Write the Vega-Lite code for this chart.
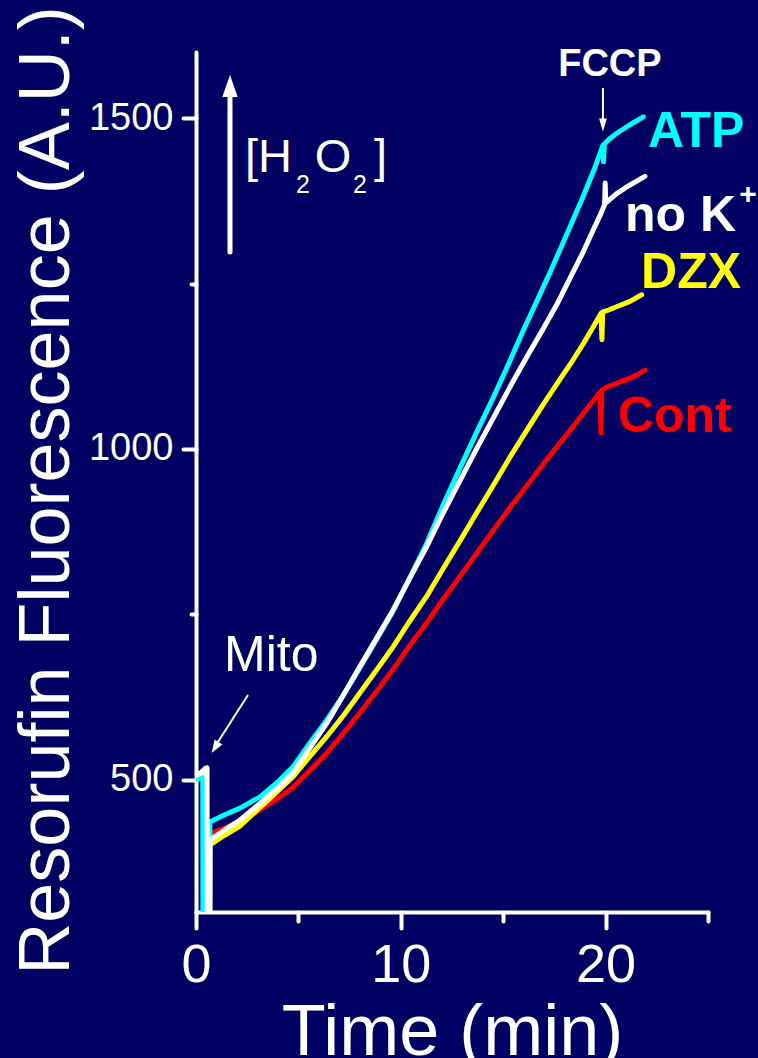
{
  "$schema": "https://vega.github.io/schema/vega-lite/v6.json",
  "width": 512,
  "height": 860,
  "autosize": "none",
  "padding": {"left": 196, "top": 52, "right": 50, "bottom": 146},
  "background": "#000062",
  "config": {"view": {"stroke": null}, "font": "Liberation Sans"},
  "datasets": {
    "curves": [
      {"series":"Cont","t":0,"v":504},{"series":"Cont","t":0.3,"v":506},{"series":"Cont","t":0.5,"v":509},{"series":"Cont","t":0.52,"v":200},{"series":"Cont","t":0.66,"v":200},{"series":"Cont","t":0.67,"v":418},{"series":"Cont","t":1.4,"v":427},{"series":"Cont","t":2.15,"v":436},{"series":"Cont","t":3.125,"v":455},{"series":"Cont","t":3.94,"v":470},{"series":"Cont","t":4.75,"v":489},{"series":"Cont","t":5.5,"v":512},{"series":"Cont","t":6.38,"v":540},{"series":"Cont","t":7.2,"v":570},{"series":"Cont","t":8.0,"v":601},{"series":"Cont","t":8.8,"v":633},{"series":"Cont","t":9.63,"v":667},{"series":"Cont","t":10.4,"v":701},{"series":"Cont","t":11.26,"v":737},{"series":"Cont","t":12.05,"v":772},{"series":"Cont","t":12.89,"v":807},{"series":"Cont","t":13.7,"v":842},{"series":"Cont","t":14.52,"v":877},{"series":"Cont","t":15.3,"v":910},{"series":"Cont","t":16.15,"v":944},{"series":"Cont","t":16.95,"v":977},{"series":"Cont","t":17.77,"v":1009},{"series":"Cont","t":18.4,"v":1033},{"series":"Cont","t":18.91,"v":1054},{"series":"Cont","t":19.35,"v":1071},{"series":"Cont","t":19.73,"v":1086},{"series":"Cont","t":19.77,"v":1024},{"series":"Cont","t":19.82,"v":1089},{"series":"Cont","t":20.1,"v":1094},{"series":"Cont","t":20.54,"v":1099},{"series":"Cont","t":21.19,"v":1107},{"series":"Cont","t":21.6,"v":1113},{"series":"Cont","t":21.92,"v":1119},
      {"series":"DZX","t":0,"v":505},{"series":"DZX","t":0.3,"v":509},{"series":"DZX","t":0.5,"v":512},{"series":"DZX","t":0.52,"v":200},{"series":"DZX","t":0.66,"v":200},{"series":"DZX","t":0.67,"v":401},{"series":"DZX","t":1.4,"v":416},{"series":"DZX","t":2.15,"v":430},{"series":"DZX","t":3.125,"v":458},{"series":"DZX","t":3.94,"v":481},{"series":"DZX","t":4.75,"v":505},{"series":"DZX","t":5.5,"v":533},{"series":"DZX","t":6.38,"v":565},{"series":"DZX","t":7.2,"v":597},{"series":"DZX","t":8.0,"v":631},{"series":"DZX","t":8.8,"v":665},{"series":"DZX","t":9.63,"v":701},{"series":"DZX","t":10.4,"v":738},{"series":"DZX","t":11.26,"v":777},{"series":"DZX","t":12.05,"v":818},{"series":"DZX","t":12.89,"v":861},{"series":"DZX","t":13.7,"v":903},{"series":"DZX","t":14.52,"v":945},{"series":"DZX","t":15.3,"v":986},{"series":"DZX","t":16.15,"v":1028},{"series":"DZX","t":16.95,"v":1067},{"series":"DZX","t":17.77,"v":1105},{"series":"DZX","t":18.4,"v":1134},{"series":"DZX","t":18.91,"v":1159},{"series":"DZX","t":19.35,"v":1182},{"series":"DZX","t":19.78,"v":1205},{"series":"DZX","t":19.82,"v":1165},{"series":"DZX","t":19.86,"v":1207},{"series":"DZX","t":20.15,"v":1210},{"series":"DZX","t":20.54,"v":1215},{"series":"DZX","t":21.19,"v":1223},{"series":"DZX","t":21.76,"v":1233},
      {"series":"ATP","t":0,"v":501},{"series":"ATP","t":0.2,"v":502},{"series":"ATP","t":0.33,"v":502},{"series":"ATP","t":0.34,"v":200},{"series":"ATP","t":0.65,"v":200},{"series":"ATP","t":0.68,"v":436},{"series":"ATP","t":1.4,"v":447},{"series":"ATP","t":2.15,"v":457},{"series":"ATP","t":3.125,"v":474},{"series":"ATP","t":3.94,"v":495},{"series":"ATP","t":4.75,"v":520},{"series":"ATP","t":5.5,"v":553},{"series":"ATP","t":6.38,"v":590},{"series":"ATP","t":7.2,"v":628},{"series":"ATP","t":8.0,"v":669},{"series":"ATP","t":8.8,"v":711},{"series":"ATP","t":9.63,"v":755},{"series":"ATP","t":10.4,"v":803},{"series":"ATP","t":11.26,"v":857},{"series":"ATP","t":12.05,"v":914},{"series":"ATP","t":12.89,"v":971},{"series":"ATP","t":13.7,"v":1025},{"series":"ATP","t":14.52,"v":1078},{"series":"ATP","t":15.3,"v":1131},{"series":"ATP","t":15.98,"v":1179},{"series":"ATP","t":16.8,"v":1234},{"series":"ATP","t":17.29,"v":1267},{"series":"ATP","t":18.1,"v":1324},{"series":"ATP","t":18.91,"v":1382},{"series":"ATP","t":19.5,"v":1427},{"series":"ATP","t":19.87,"v":1459},{"series":"ATP","t":19.9,"v":1434},{"series":"ATP","t":19.94,"v":1461},{"series":"ATP","t":20.2,"v":1469},{"series":"ATP","t":20.54,"v":1477},{"series":"ATP","t":21.19,"v":1490},{"series":"ATP","t":21.84,"v":1502},
      {"series":"no K+","t":0,"v":506},{"series":"no K+","t":0.25,"v":511},{"series":"no K+","t":0.45,"v":517},{"series":"no K+","t":0.54,"v":518},{"series":"no K+","t":0.55,"v":200},{"series":"no K+","t":0.68,"v":200},{"series":"no K+","t":0.69,"v":409},{"series":"no K+","t":1.4,"v":424},{"series":"no K+","t":2.15,"v":439},{"series":"no K+","t":3.125,"v":464},{"series":"no K+","t":3.94,"v":486},{"series":"no K+","t":4.75,"v":511},{"series":"no K+","t":5.5,"v":545},{"series":"no K+","t":6.38,"v":585},{"series":"no K+","t":7.2,"v":628},{"series":"no K+","t":8.0,"v":671},{"series":"no K+","t":8.8,"v":713},{"series":"no K+","t":9.63,"v":757},{"series":"no K+","t":10.4,"v":802},{"series":"no K+","t":11.26,"v":852},{"series":"no K+","t":12.05,"v":902},{"series":"no K+","t":12.89,"v":952},{"series":"no K+","t":13.7,"v":1000},{"series":"no K+","t":14.52,"v":1047},{"series":"no K+","t":15.3,"v":1092},{"series":"no K+","t":16.15,"v":1139},{"series":"no K+","t":16.94,"v":1181},{"series":"no K+","t":17.63,"v":1219},{"series":"no K+","t":18.1,"v":1248},{"series":"no K+","t":18.91,"v":1298},{"series":"no K+","t":19.35,"v":1328},{"series":"no K+","t":19.73,"v":1353},{"series":"no K+","t":19.95,"v":1369},{"series":"no K+","t":19.98,"v":1402},{"series":"no K+","t":20.01,"v":1372},{"series":"no K+","t":20.54,"v":1386},{"series":"no K+","t":21.19,"v":1399},{"series":"no K+","t":21.92,"v":1412}
    ],
    "notes": [
      {"kind":"label","series":"ATP","text":"ATP","t":22.07,"v":1456},
      {"kind":"label","series":"no K+","text":"no K","t":20.95,"v":1329},
      {"kind":"label","series":"DZX","text":"DZX","t":21.73,"v":1243},
      {"kind":"label","series":"Cont","text":"Cont","t":20.6,"v":1026},
      {"kind":"sup","text":"+","t":26.95,"v":1370},
      {"kind":"fccp","text":"FCCP","t":20.21,"v":1563.7},
      {"kind":"mito","text":"Mito","t":1.37,"v":664},
      {"kind":"chem","text":"[H","t":2.39,"v":1418.6},
      {"kind":"chem","text":"O","t":5.8,"v":1418.6},
      {"kind":"chem","text":"]","t":8.69,"v":1418.6},
      {"kind":"sub","text":"2","t":4.88,"v":1386.8},
      {"kind":"sub","text":"2","t":7.67,"v":1386.8}
    ],
    "arrows": [
      {"kind":"thick","t":1.66,"v":1297.7,"t2":1.66,"v2":1539.5},
      {"kind":"thin","t":19.87,"v":1545.6,"t2":19.87,"v2":1497},
      {"kind":"thin","t":2.54,"v":628,"t2":1.07,"v2":557}
    ],
    "heads": [
      {"kind":"big","t":1.66,"v":1548.6},
      {"kind":"fccp","t":19.87,"v":1489.6},
      {"kind":"mito","t":0.93,"v":548.6}
    ]
  },
  "encoding": {
    "x": {
      "field": "t", "type": "quantitative",
      "scale": {"domain": [0, 25], "nice": false, "zero": false},
      "axis": {
        "title": "Time (min)", "values": [0, 5, 10, 15, 20, 25], "format": "d",
        "labelExpr": "datum.value % 10 === 0 ? datum.label : ''",
        "grid": false, "domainColor": "white", "domainWidth": 4, "domainCap": "round",
        "tickColor": "white", "tickWidth": 4, "tickCap": "round", "tickSize": 16,
        "tickDash": {"condition": {"test": "datum.value % 10 !== 0", "value": [9, 40]}, "value": []},
        "labelColor": "white", "labelFont": "Liberation Sans", "labelFontSize": 54,
        "labelBaseline": "alphabetic", "labelPadding": 53, "labelFlush": false, "labelOverlap": false,
        "titleColor": "white", "titleFont": "Liberation Sans", "titleFontSize": 72, "titleFontWeight": "normal",
        "titleBaseline": "alphabetic", "titleY": 142
      }
    },
    "y": {
      "field": "v", "type": "quantitative",
      "scale": {"domain": [300, 1600], "nice": false, "zero": false},
      "axis": {
        "title": "Resorufin Fluorescence (A.U.)", "values": [500, 750, 1000, 1250, 1500], "format": "d",
        "labelExpr": "datum.value % 500 === 0 ? datum.label : ''",
        "grid": false, "domainColor": "white", "domainWidth": 4, "domainCap": "round",
        "tickColor": "white", "tickWidth": 4, "tickCap": "round", "tickSize": 13,
        "tickDash": {"condition": {"test": "datum.value % 500 !== 0", "value": [5, 40]}, "value": []},
        "labelColor": "white", "labelFont": "Liberation Sans", "labelFontSize": 38,
        "labelPadding": 10, "labelFlush": false, "labelOverlap": false,
        "titleColor": "white", "titleFont": "Liberation Sans", "titleFontSize": 72, "titleFontWeight": "normal",
        "titleAngle": -90, "titleAlign": "center", "titleBaseline": "alphabetic", "titleX": -128, "titleY": 438
      }
    }
  },
  "layer": [
    {
      "data": {"name": "curves"},
      "transform": [{"filter": "datum.series === 'Cont'"}],
      "mark": {"type": "line", "clip": true, "strokeWidth": 5, "strokeCap": "round", "strokeJoin": "round"},
      "encoding": {"color": {"field": "series", "type": "nominal", "scale": {"domain": ["Cont", "DZX", "no K+", "ATP"], "range": ["#ff0000", "#ffff00", "#ffffff", "#00ffff"]}, "legend": null}}
    },
    {
      "data": {"name": "curves"},
      "transform": [{"filter": "datum.series === 'DZX'"}],
      "mark": {"type": "line", "clip": true, "strokeWidth": 5, "strokeCap": "round", "strokeJoin": "round"},
      "encoding": {"color": {"field": "series", "type": "nominal", "scale": {"domain": ["Cont", "DZX", "no K+", "ATP"], "range": ["#ff0000", "#ffff00", "#ffffff", "#00ffff"]}, "legend": null}}
    },
    {
      "data": {"name": "curves"},
      "transform": [{"filter": "datum.series === 'ATP'"}],
      "mark": {"type": "line", "clip": true, "strokeWidth": 5, "strokeCap": "round", "strokeJoin": "round"},
      "encoding": {"color": {"field": "series", "type": "nominal", "scale": {"domain": ["Cont", "DZX", "no K+", "ATP"], "range": ["#ff0000", "#ffff00", "#ffffff", "#00ffff"]}, "legend": null}}
    },
    {
      "data": {"name": "curves"},
      "transform": [{"filter": "datum.series === 'no K+'"}],
      "mark": {"type": "line", "clip": true, "strokeWidth": 5, "strokeCap": "round", "strokeJoin": "round"},
      "encoding": {"color": {"field": "series", "type": "nominal", "scale": {"domain": ["Cont", "DZX", "no K+", "ATP"], "range": ["#ff0000", "#ffff00", "#ffffff", "#00ffff"]}, "legend": null}}
    },
    {
      "data": {"name": "notes"},
      "transform": [{"filter": "datum.kind === 'label'"}],
      "mark": {"type": "text", "font": "Liberation Sans", "fontSize": 50, "fontWeight": "bold", "align": "left", "baseline": "alphabetic"},
      "encoding": {
        "text": {"field": "text"},
        "color": {"field": "series", "type": "nominal", "scale": {"domain": ["Cont", "DZX", "no K+", "ATP"], "range": ["#ff0000", "#ffff00", "#ffffff", "#00ffff"]}, "legend": null}
      }
    },
    {
      "data": {"name": "notes"},
      "transform": [{"filter": "datum.kind === 'sup'"}],
      "mark": {"type": "text", "font": "Liberation Sans", "fontSize": 30, "fontWeight": "bold", "align": "center", "baseline": "alphabetic", "color": "white"},
      "encoding": {"text": {"field": "text"}}
    },
    {
      "data": {"name": "notes"},
      "transform": [{"filter": "datum.kind === 'fccp'"}],
      "mark": {"type": "text", "font": "Liberation Sans", "fontSize": 38, "fontWeight": "bold", "align": "center", "baseline": "alphabetic", "color": "white"},
      "encoding": {"text": {"field": "text"}}
    },
    {
      "data": {"name": "notes"},
      "transform": [{"filter": "datum.kind === 'mito'"}],
      "mark": {"type": "text", "font": "Liberation Sans", "fontSize": 50, "align": "left", "baseline": "alphabetic", "color": "white"},
      "encoding": {"text": {"field": "text"}}
    },
    {
      "data": {"name": "notes"},
      "transform": [{"filter": "datum.kind === 'chem'"}],
      "mark": {"type": "text", "font": "Liberation Sans", "fontSize": 47, "align": "left", "baseline": "alphabetic", "color": "white"},
      "encoding": {"text": {"field": "text"}}
    },
    {
      "data": {"name": "notes"},
      "transform": [{"filter": "datum.kind === 'sub'"}],
      "mark": {"type": "text", "font": "Liberation Sans", "fontSize": 25, "align": "left", "baseline": "alphabetic", "color": "white"},
      "encoding": {"text": {"field": "text"}}
    },
    {
      "data": {"name": "arrows"},
      "transform": [{"filter": "datum.kind === 'thick'"}],
      "mark": {"type": "rule", "color": "white", "strokeWidth": 5, "strokeCap": "round"},
      "encoding": {"x2": {"field": "t2"}, "y2": {"field": "v2"}}
    },
    {
      "data": {"name": "arrows"},
      "transform": [{"filter": "datum.kind === 'thin'"}],
      "mark": {"type": "rule", "color": "white", "strokeWidth": 2},
      "encoding": {"x2": {"field": "t2"}, "y2": {"field": "v2"}}
    },
    {
      "data": {"name": "heads"},
      "transform": [{"filter": "datum.kind === 'big'"}],
      "mark": {"type": "point", "shape": "M0,-1L0.7,1L-0.7,1Z", "filled": true, "size": 484, "angle": 0, "color": "white", "opacity": 1, "strokeWidth": 0},
      "encoding": {}
    },
    {
      "data": {"name": "heads"},
      "transform": [{"filter": "datum.kind === 'fccp'"}],
      "mark": {"type": "point", "shape": "M0,-1L0.6,1L-0.6,1Z", "filled": true, "size": 169, "angle": 180, "color": "white", "opacity": 1, "strokeWidth": 0},
      "encoding": {}
    },
    {
      "data": {"name": "heads"},
      "transform": [{"filter": "datum.kind === 'mito'"}],
      "mark": {"type": "point", "shape": "M0,-1L0.7,1L-0.7,1Z", "filled": true, "size": 169, "angle": 212, "color": "white", "opacity": 1, "strokeWidth": 0},
      "encoding": {}
    }
  ]
}
